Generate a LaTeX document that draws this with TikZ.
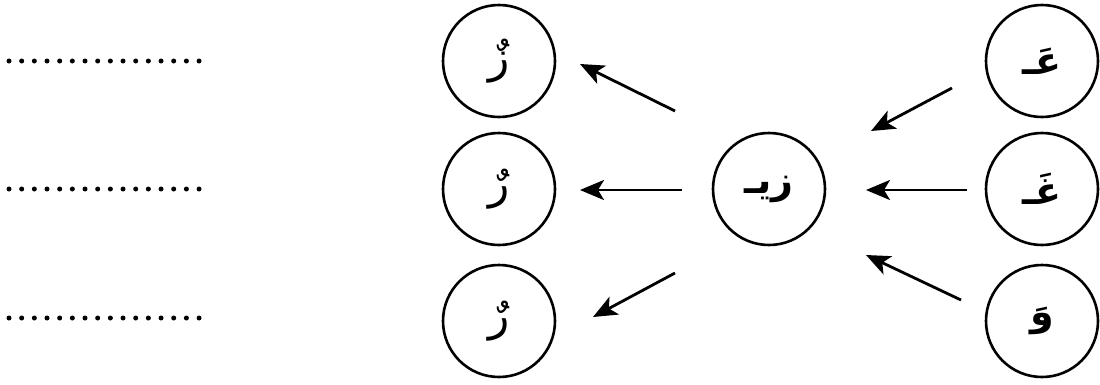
\documentclass[tikz,border=0pt]{standalone}
\usepackage{fontspec}
\newfontfamily\arabicfont[Script=Arabic]{DejaVu Sans}
\TeXXeTstate=1
\usetikzlibrary{arrows.meta}
\tikzset{
  letter/.style={circle,draw,line width=2.6pt,minimum size=112pt,inner sep=0pt,
    font=\arabicfont\fontsize{44}{50}\selectfont},
  boldletter/.style={letter,font=\arabicfont\bfseries\fontsize{38}{44}\selectfont},
  arr/.style={line width=2.8pt,-{Stealth[length=24pt,width=20pt,inset=6pt]}},
  blank/.style={line width=5pt,line cap=round,dash pattern=on 0pt off 12.67pt}
}
\begin{document}
\begin{tikzpicture}[x=1pt,y=-1pt]
\useasboundingbox (0,0) rectangle (1100,384);
% left column
\node[letter] (L1) at (499,61) {\beginR زٌ\endR};
\node[letter] (L2) at (499,189) {\beginR رٌ\endR};
\node[letter] (L3) at (499,321) {\beginR رٌ\endR};
% centre
\node[boldletter] (C) at (769,189) {\beginR زيـ\endR};
% right column
\node[boldletter] (R1) at (1042,61) {\beginR عَـ\endR};
\node[boldletter] (R2) at (1042,189) {\beginR غَـ\endR};
\node[boldletter] (R3) at (1042,321) {\beginR وَ\endR};
% arrow ends
\coordinate (a1s) at (675,111); \coordinate (a1e) at (580,64);
\coordinate (a2s) at (682,190); \coordinate (a2e) at (580,190);
\coordinate (a3s) at (675,273); \coordinate (a3e) at (593,317);
\coordinate (b1s) at (952,88);  \coordinate (b1e) at (871,131);
\coordinate (b2s) at (967,190); \coordinate (b2e) at (866,190);
\coordinate (b3s) at (961,300); \coordinate (b3e) at (866,255);
\draw[arr] (a1s) -- (a1e);
\draw[arr] (a2s) -- (a2e);
\draw[arr] (a3s) -- (a3e);
\draw[arr] (b1s) -- (b1e);
\draw[arr] (b2s) -- (b2e);
\draw[arr] (b3s) -- (b3e);
% dotted blanks
\coordinate (d1s) at (9,61);  \coordinate (d1e) at (200,61);
\coordinate (d2s) at (9,189); \coordinate (d2e) at (200,189);
\coordinate (d3s) at (9,318); \coordinate (d3e) at (200,318);
\draw[blank] (d1s) -- (d1e);
\draw[blank] (d2s) -- (d2e);
\draw[blank] (d3s) -- (d3e);
\end{tikzpicture}
\end{document}
